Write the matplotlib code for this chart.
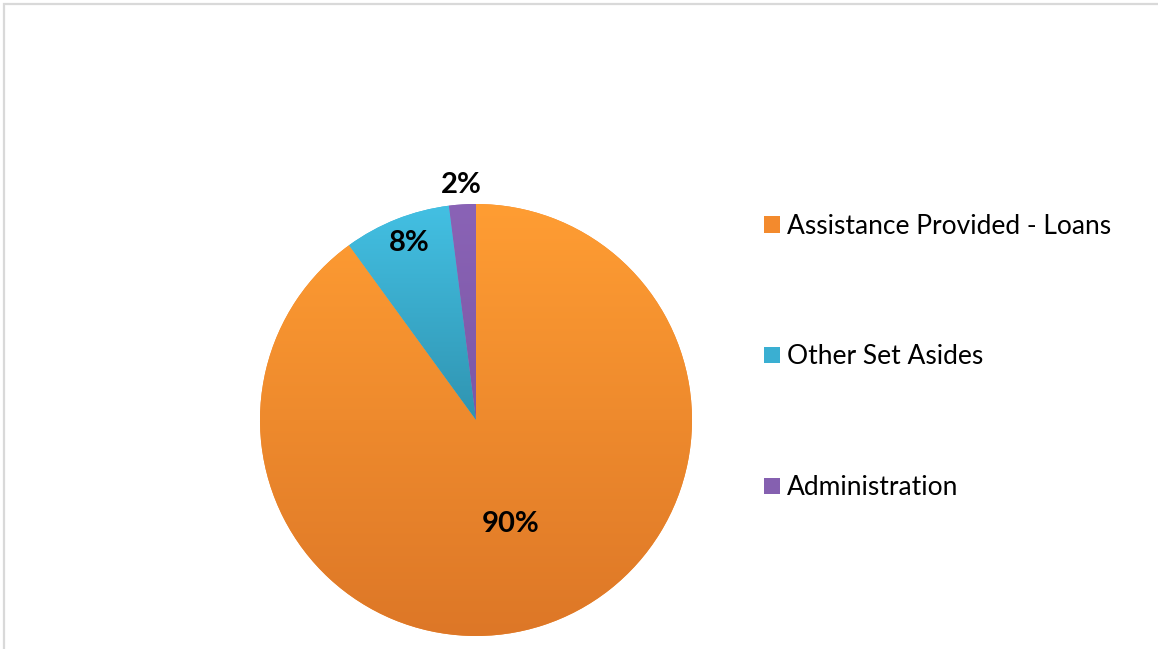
import matplotlib.pyplot as plt
import matplotlib.patches as mpatches
from matplotlib.colors import LinearSegmentedColormap
import numpy as np

plt.rcParams['font.family'] = ['Lato', 'DejaVu Sans']

# Data
labels = ["Assistance Provided - Loans", "Other Set Asides", "Administration"]
shares = [90, 8, 2]
pct_text = ["90%", "8%", "2%"]
top_colors = ["#FF9D33", "#43C0E3", "#8A63B6"]
bottom_colors = ["#DD7727", "#3094B1", "#7C58A6"]
mid_colors = ["#F38A2D", "#3AAFD2", "#8560B0"]

fig = plt.figure(figsize=(11.58, 6.49), dpi=100)

# chart frame (only top/left edges fall inside the image)
fig.patches.append(mpatches.Rectangle((4 / 1158, -0.1), 1.2, 1 - 4 / 649 + 0.1,
                                      transform=fig.transFigure, fill=False,
                                      edgecolor="#D9D9D9", linewidth=1.6))

ax = fig.add_axes([260 / 1158, 13 / 649, 432 / 1158, 432 / 649])
wedges, _ = ax.pie(shares, startangle=90, counterclock=False, radius=1,
                   colors=mid_colors, wedgeprops=dict(linewidth=0))

# vertical gradient fill per wedge
grad = np.linspace(0, 1, 256).reshape(-1, 1)
for w, c1, c2 in zip(wedges, top_colors, bottom_colors):
    ext = w.get_path().get_extents()
    cmap = LinearSegmentedColormap.from_list("g", [c2, c1])
    im = ax.imshow(grad, cmap=cmap, aspect='auto', origin='lower',
                   extent=[ext.x0, ext.x1, ext.y0, ext.y1], zorder=2)
    im.set_clip_path(w)
ax.set_xlim(-1, 1)
ax.set_ylim(-1, 1)
ax.set_aspect('equal')
ax.axis('off')

# percentage labels
label_pos = [(0.16, -0.48), (-0.31, 0.82), (-0.07, 1.09)]
for t, (x, y) in zip(pct_text, label_pos):
    ax.text(x, y, t, ha='center', va='center', fontsize=21,
            fontweight='bold', color='black', zorder=5)

handles = [mpatches.Patch(facecolor=c, edgecolor='none') for c in mid_colors]
fig.legend(handles, labels, loc='center left',
           bbox_to_anchor=(751 / 1158, 1 - 357 / 649), frameon=False,
           fontsize=19, handlelength=0.58, handleheight=0.58,
           handletextpad=0.3, labelspacing=4.0, borderpad=0)

fig.savefig("out.png", dpi=100)
